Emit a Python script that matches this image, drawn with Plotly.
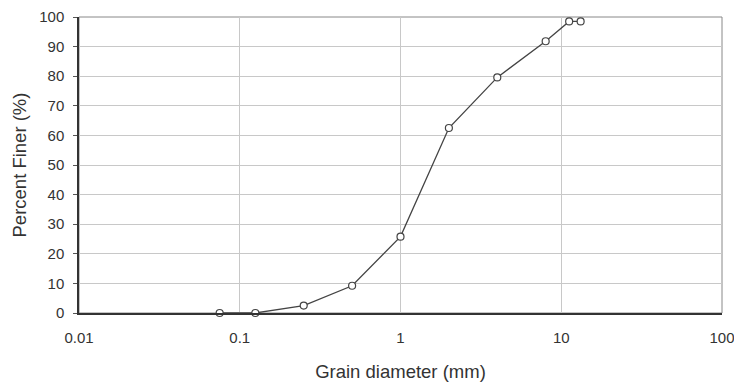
import plotly.graph_objects as go

grain_mm = [0.075, 0.125, 0.25, 0.5, 1, 2, 4, 8, 11.2, 13.2]
percent_finer = [0, 0, 2.5, 9.2, 25.8, 62.5, 79.6, 91.8, 98.5, 98.5]

x_tickvals = [0.01, 0.1, 1, 10, 100]
x_ticktext = ["0.01", "0.1", "1", "10", "100"]
y_tickvals = [0, 10, 20, 30, 40, 50, 60, 70, 80, 90, 100]

fig = go.Figure()
fig.add_trace(go.Scatter(
    x=grain_mm, y=percent_finer, mode="lines+markers",
    line=dict(color="#444444", width=1.3),
    marker=dict(symbol="circle", size=7, color="white",
                line=dict(color="#444444", width=1.2)),
    showlegend=False, cliponaxis=False,
))

font = dict(family="Liberation Sans, Arial, sans-serif", size=15, color="#333333")
fig.update_layout(
    width=734, height=385,
    margin=dict(l=79, r=12, t=17, b=72),
    paper_bgcolor="white", plot_bgcolor="white",
    font=font,
    xaxis=dict(
        type="log", range=[-2, 2], automargin=False,
        tickvals=x_tickvals, ticktext=x_ticktext,
        ticklabeloverflow="allow",
        showgrid=True, gridcolor="#c8c8c8", gridwidth=1,
        showline=True, linecolor="#333333", linewidth=1.5,
        ticks="", ticklabelstandoff=10,
        title=dict(text="Grain diameter (mm)", font=dict(size=18.5, color="#333333"), standoff=20),
        zeroline=False,
    ),
    yaxis=dict(
        range=[0, 100], tickvals=y_tickvals, automargin=False,
        showgrid=True, gridcolor="#c8c8c8", gridwidth=1,
        showline=True, linecolor="#333333", linewidth=1.5,
        ticks="outside", ticklen=4, tickcolor="#555555",
        ticklabelstandoff=6,
        title=dict(text="Percent Finer (%)", font=dict(size=18.5, color="#333333"), standoff=8),
        zeroline=False,
    ),
    shapes=[dict(type="rect", xref="paper", yref="paper", x0=0, y0=0, x1=1, y1=1,
                 line=dict(color="#888888", width=1), layer="below")],
)

fig.write_html("out.html")
